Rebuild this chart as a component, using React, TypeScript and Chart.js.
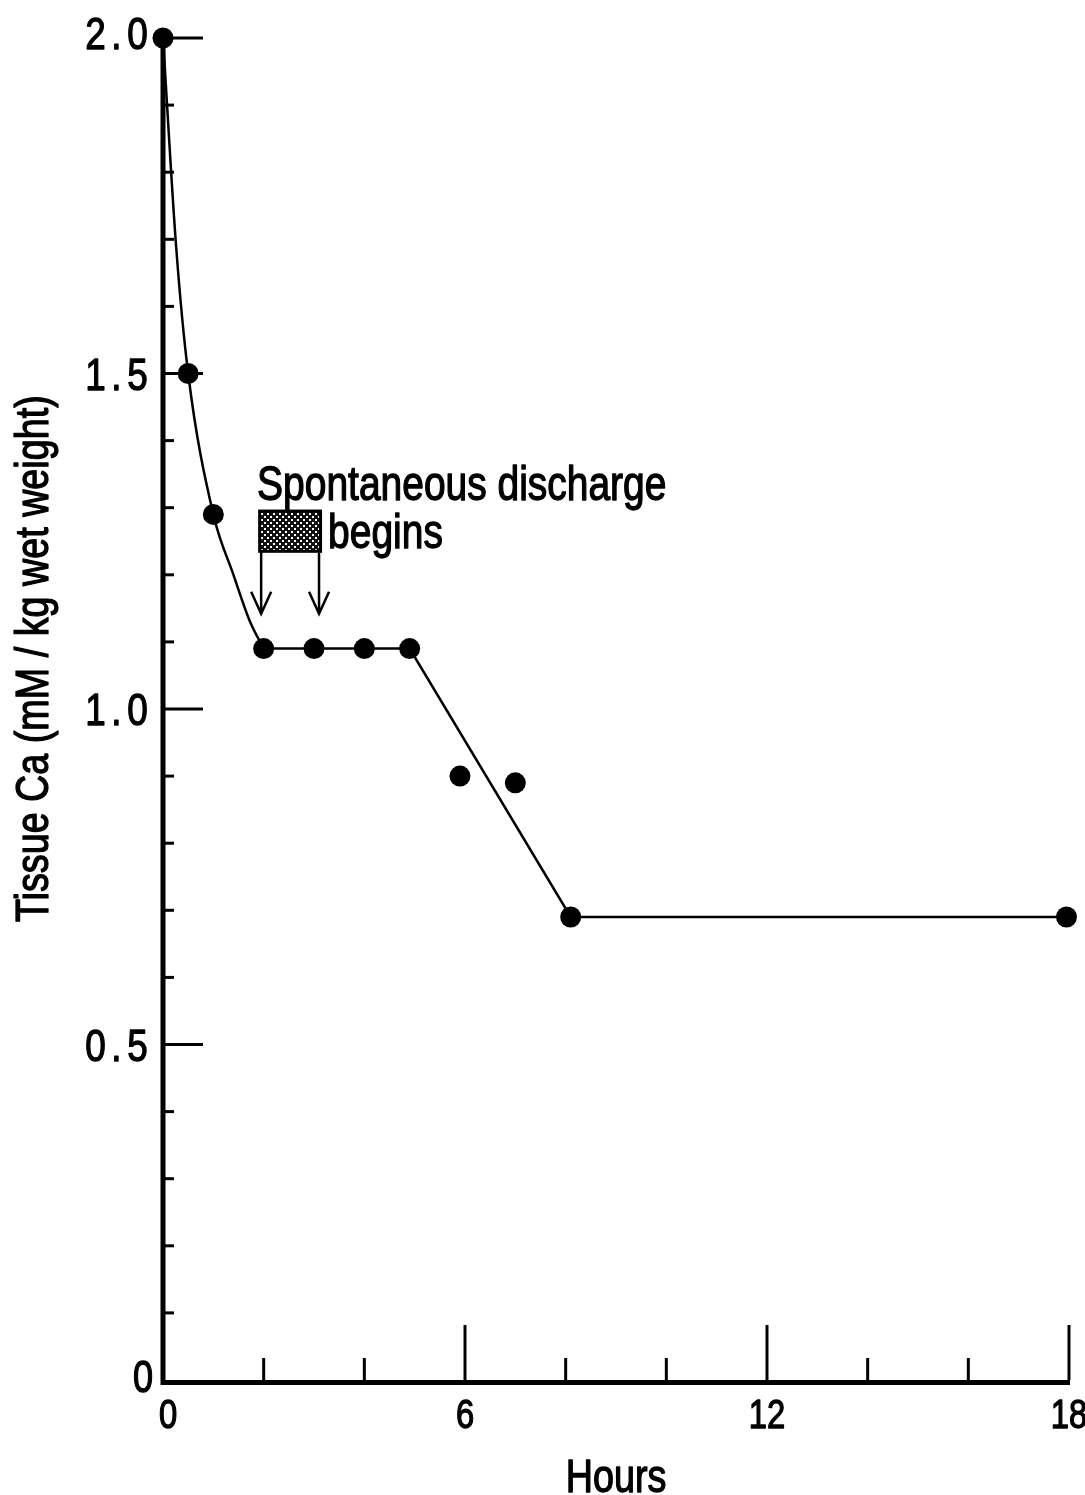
import React, { useEffect, useRef } from 'react';
import { Chart, registerables } from 'chart.js';

Chart.register(...registerables);

// Measured tissue calcium (mM/kg wet weight) against time (hours)
const hours = [0, 0.5, 1, 2, 3, 4, 4.9, 5.9, 7, 8.1, 17.95];
const tissueCa = [2.0, 1.5, 1.29, 1.09, 1.09, 1.09, 1.09, 0.9, 0.89, 0.69, 0.69];

// Hand-drawn smooth fall of the fitted line over the first two hours
const curveHours = [0, 0.26, 0.5, 1.0, 1.4, 1.73, 2.0];
const curveCa = [2.0, 1.69, 1.5, 1.29, 1.2, 1.13, 1.09];

// Straight part of the fitted line: plateau, fall, second plateau
const lineHours = [2.0, 4.9, 8.1, 17.95];
const lineCa = [1.09, 1.09, 0.69, 0.69];

const xTickValues = [0, 6, 12, 18];
const yTickValues = [0, 0.5, 1.0, 1.5, 2.0];

const SANS = "'Liberation Sans', Arial, sans-serif";
const SQUEEZE = 0.82;

const toXY = (xs: number[], ys: number[]) => xs.map((x, i) => ({ x, y: ys[i] }));
const yLabel = (v: number) => (v === 0 ? '0' : v.toFixed(1));

// Condensed text: horizontal squeeze plus a light outline for weight
function narrowText(
  ctx: CanvasRenderingContext2D,
  text: string,
  x: number,
  y: number,
  size: number,
  align: 'left' | 'center' | 'right',
) {
  ctx.save();
  ctx.font = `${size}px ${SANS}`;
  ctx.textAlign = 'left';
  const w = ctx.measureText(text).width * SQUEEZE;
  const left = align === 'left' ? x : align === 'center' ? x - w / 2 : x - w;
  ctx.translate(left, y);
  ctx.scale(SQUEEZE, 1);
  ctx.fillStyle = '#000';
  ctx.strokeStyle = '#000';
  ctx.lineWidth = 1.3;
  ctx.lineJoin = 'round';
  ctx.fillText(text, 0, 0);
  ctx.strokeText(text, 0, 0);
  ctx.restore();
}

// Fixed-pitch label: each character centred in its own cell, right-aligned run
function pitchedText(ctx: CanvasRenderingContext2D, text: string, right: number, y: number, size: number, cell: number) {
  const chars = text.split('');
  chars.forEach((ch, i) => {
    const cx = right - (chars.length - i - 0.5) * cell;
    narrowText(ctx, ch, cx, y, size, 'center');
  });
}

function makeStipple(ctx: CanvasRenderingContext2D): CanvasPattern | string {
  const tile = document.createElement('canvas');
  tile.width = 6;
  tile.height = 6;
  const t = tile.getContext('2d');
  if (!t) return '#555';
  t.fillStyle = '#111';
  t.fillRect(0, 0, 6, 6);
  t.fillStyle = '#fff';
  t.fillRect(0, 0, 2, 2);
  t.fillRect(3, 3, 2, 2);
  return ctx.createPattern(tile, 'repeat') || '#555';
}

// Axis lines, inward ticks, tick labels, axis titles and the discharge note
const frame = {
  id: 'frame',
  beforeDatasetsDraw(chart: any) {
    const { ctx, scales, chartArea } = chart;
    const x = scales.x;
    const y = scales.y;
    const x0 = x.getPixelForValue(0);
    const y0 = y.getPixelForValue(0);
    ctx.save();
    ctx.strokeStyle = '#000';
    ctx.fillStyle = '#000';
    ctx.lineCap = 'butt';

    // axis lines
    ctx.lineWidth = 5;
    ctx.beginPath();
    ctx.moveTo(x0, y.getPixelForValue(2.0));
    ctx.lineTo(x0, y0 + 2.5);
    ctx.lineTo(x.getPixelForValue(18) + 1, y0 + 2.5);
    ctx.stroke();

    // y ticks every 0.1, long at each 0.5
    ctx.lineWidth = 3;
    for (let i = 1; i <= 20; i++) {
      const py = y.getPixelForValue(i / 10);
      const len = i % 5 === 0 ? 40 : 11;
      ctx.beginPath();
      ctx.moveTo(x0, py);
      ctx.lineTo(x0 + len, py);
      ctx.stroke();
    }

    // x ticks every 2 h, long at each 6 h
    for (let h = 2; h <= 18; h += 2) {
      const px = x.getPixelForValue(h);
      const len = h % 6 === 0 ? 55 : 22;
      ctx.beginPath();
      ctx.moveTo(px, y0);
      ctx.lineTo(px, y0 - len);
      ctx.stroke();
    }

    // tick labels
    ctx.textBaseline = 'alphabetic';
    for (const v of yTickValues) {
      const py = y.getPixelForValue(v);
      if (v === 0) {
        narrowText(ctx, yLabel(v), x0 - 10, py + 12, 44, 'right');
      } else {
        pitchedText(ctx, yLabel(v), x0 - 15, py + (v === 2 ? 11 : 16), 45, 21);
      }
    }
    for (const h of xTickValues) {
      narrowText(ctx, String(h), x.getPixelForValue(h) + (h === 0 ? 5 : 0), y0 + 48, 40, 'center');
    }

    // axis titles
    narrowText(ctx, 'Hours', (chartArea.left + chartArea.right) / 2, y0 + 112, 46, 'center');

    ctx.save();
    ctx.translate(35, y.getPixelForValue(1.075));
    ctx.rotate(-Math.PI / 2);
    ctx.textBaseline = 'middle';
    narrowText(ctx, 'Tissue Ca (mM / kg wet weight)', 0, 0, 46, 'center');
    ctx.restore();

    ctx.restore();
  },
  afterDatasetsDraw(chart: any) {
    const { ctx, scales } = chart;
    const xs = (h: number) => scales.x.getPixelForValue(h);
    const ys = (v: number) => scales.y.getPixelForValue(v);
    ctx.save();
    ctx.textBaseline = 'alphabetic';
    narrowText(ctx, 'Spontaneous discharge', xs(1.87), ys(1.312), 47.5, 'left');
    narrowText(ctx, 'begins', xs(3.28), ys(1.24), 47.5, 'left');

    // stippled bar spanning the onset window
    const bl = xs(1.92);
    const br = xs(3.13);
    const bt = ys(1.295);
    const bb = ys(1.235);
    ctx.fillStyle = makeStipple(ctx);
    ctx.fillRect(bl, bt, br - bl, bb - bt);
    ctx.strokeStyle = '#000';
    ctx.lineWidth = 3;
    ctx.strokeRect(bl, bt, br - bl, bb - bt);

    // arrows from the bar edges down to the 2 h and 3 h samples
    const tip = ys(1.142);
    ctx.lineWidth = 2.5;
    for (const h of [1.95, 3.1]) {
      const ax = xs(h);
      ctx.beginPath();
      ctx.moveTo(ax, bb);
      ctx.lineTo(ax, tip);
      ctx.moveTo(ax - 10, tip - 22);
      ctx.lineTo(ax, tip);
      ctx.lineTo(ax + 10, tip - 22);
      ctx.stroke();
    }
    ctx.restore();
  },
};

export default function App() {
  const ref = useRef<HTMLCanvasElement>(null);

  useEffect(() => {
    if (!ref.current) return;
    const chart = new Chart(ref.current, {
      type: 'scatter',
      data: {
        datasets: [
          {
            label: 'fit (curve)',
            data: toXY(curveHours, curveCa),
            showLine: true,
            borderColor: '#000',
            borderWidth: 2.5,
            pointRadius: 0,
            cubicInterpolationMode: 'monotone',
            clip: false,
          },
          {
            label: 'fit (line)',
            data: toXY(lineHours, lineCa),
            showLine: true,
            borderColor: '#000',
            borderWidth: 2.5,
            pointRadius: 0,
            tension: 0,
            clip: false,
          },
          {
            label: 'Tissue Ca',
            data: toXY(hours, tissueCa),
            showLine: false,
            pointRadius: 10.5,
            pointBackgroundColor: '#000',
            pointBorderWidth: 0,
            clip: false,
          },
        ],
      } as any,
      options: {
        animation: false,
        responsive: false,
        devicePixelRatio: 1,
        events: [],
        layout: { padding: { left: 0, top: 38, right: 16, bottom: 0 } },
        plugins: {
          legend: { display: false },
          tooltip: { enabled: false },
        },
        scales: {
          x: {
            type: 'linear',
            min: 0,
            max: 18,
            afterFit: (s: any) => {
              s.height = 115;
              s.paddingLeft = 0;
              s.paddingRight = 0;
            },
            grid: { display: false },
            border: { display: false },
            ticks: { display: false },
          },
          y: {
            type: 'linear',
            min: 0,
            max: 2,
            afterFit: (s: any) => {
              s.width = 163;
              s.paddingTop = 0;
              s.paddingBottom = 0;
            },
            grid: { display: false },
            border: { display: false },
            ticks: { display: false },
          },
        },
      },
      plugins: [frame],
    } as any);
    return () => chart.destroy();
  }, []);

  return (
    <div style={{ position: 'absolute', left: 0, top: 0, width: 1085, height: 1495, background: '#fff' }}>
      <canvas ref={ref} width={1085} height={1495} style={{ display: 'block' }} />
    </div>
  );
}
